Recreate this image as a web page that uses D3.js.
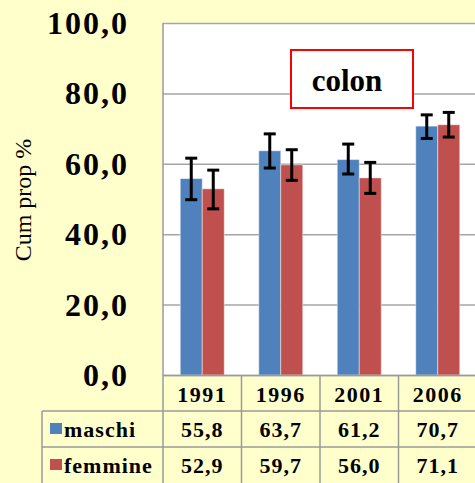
<!DOCTYPE html>
<html>
<head>
<meta charset="utf-8">
<script src="https://cdn.jsdelivr.net/npm/d3@7"></script>
<style>
	html, body { margin: 0; padding: 0; background: #FFFFCC; }
	svg { display: block; }
</style>
</head>
<body>
<div id="chart"></div>
<script>
//Data---------------------------------------------------------------------
var categories = ['1991', '1996', '2001', '2006'];
var seriesNames = ['maschi', 'femmine'];
var maschi = [55.8, 63.7, 61.2, 70.7];
var femmine = [52.9, 59.7, 56.0, 71.1];
//error bars (lower / upper)
var maschiLow = [49.8, 58.8, 57.1, 67.2];
var maschiHigh = [61.6, 68.5, 65.6, 73.9];
var femmineLow = [47.2, 55.3, 51.6, 67.6];
var femmineHigh = [58.2, 64.0, 60.4, 74.6];
var yTicks = [0, 20, 40, 60, 80, 100];
var chartTitle = 'colon';
var yTitle = 'Cum prop %';

var W = 475, H = 483;
var FONT = "'Liberation Serif', 'Times New Roman', serif";
var colors = ['#4F81BD', '#C0504D'];
var gridColor = '#A6A6A6';
var lineColor = '#9A9A9A';

var series = [
	{ name: seriesNames[0], values: maschi, low: maschiLow, high: maschiHigh },
	{ name: seriesNames[1], values: femmine, low: femmineLow, high: femmineHigh }
];

var fmt = function (v) {
	return d3.format('.1f')(v).replace('.', ',');
};

var svg = d3.select('#chart').append('svg')
	.attr('width', W)
	.attr('height', H)
	.attr('font-family', FONT);

svg.append('rect')
	.attr('width', W)
	.attr('height', H)
	.attr('fill', '#FFFFCC');

//Scales-------------------------------------------------------------------
var plotLeft = 163, plotRight = 477, plotTop = 23, plotBottom = 375;
var tableLeft = 42, rowH = 36;

var x = d3.scaleBand()
	.domain(categories)
	.range([plotLeft, plotRight])
	.paddingInner(0)
	.paddingOuter(0);

var y = d3.scaleLinear()
	.domain([0, 100])
	.range([plotBottom, plotTop]);

var barW = 22;
var xs = d3.scaleBand()
	.domain(seriesNames)
	.range([-barW, barW]);

//plot area
svg.append('rect')
	.attr('x', plotLeft)
	.attr('y', plotTop)
	.attr('width', plotRight - plotLeft)
	.attr('height', plotBottom - plotTop)
	.attr('fill', '#FFFFFF');

//gridlines
svg.append('g').selectAll('line')
	.data(yTicks)
	.enter()
	.append('line')
	.attr('x1', plotLeft)
	.attr('x2', plotRight)
	.attr('y1', function (d) { return y(d) + 0.5; })
	.attr('y2', function (d) { return y(d) + 0.5; })
	.attr('stroke', gridColor)
	.attr('stroke-width', 1.5);

//y tick labels
svg.append('g').selectAll('text')
	.data(yTicks)
	.enter()
	.append('text')
	.attr('x', 129)
	.attr('y', function (d) { return y(d) + 11; })
	.attr('text-anchor', 'end')
	.attr('font-size', 32)
	.attr('font-weight', 'bold')
	.attr('letter-spacing', 2)
	.text(fmt);

//y title
svg.append('text')
	.attr('transform', 'translate(31,200) rotate(-90)')
	.attr('text-anchor', 'middle')
	.attr('font-size', 24)
	.text(yTitle);

//bars
var groups = svg.append('g').selectAll('g')
	.data(series)
	.enter()
	.append('g');

groups.selectAll('rect')
	.data(function (s) {
		return s.values.map(function (v, i) {
			return { name: s.name, cat: categories[i], v: v };
		});
	})
	.enter()
	.append('rect')
	.attr('x', function (d) { return x(d.cat) + x.bandwidth() / 2 + xs(d.name); })
	.attr('y', function (d) { return y(d.v); })
	.attr('width', xs.bandwidth())
	.attr('height', function (d) { return y(0) - y(d.v); })
	.attr('fill', function (d) { return colors[seriesNames.indexOf(d.name)]; })
	.attr('stroke', 'rgba(255,255,255,0.45)')
	.attr('stroke-width', 1);

//error bars
var errs = groups.selectAll('g')
	.data(function (s) {
		return s.values.map(function (v, i) {
			return { name: s.name, cat: categories[i], lo: s.low[i], hi: s.high[i] };
		});
	})
	.enter()
	.append('g')
	.attr('transform', function (d) {
		return 'translate(' + (x(d.cat) + x.bandwidth() / 2 + xs(d.name) + xs.bandwidth() / 2) + ',0)';
	})
	.attr('stroke', '#000')
	.attr('stroke-width', 3);

errs.append('line')
	.attr('x1', 0).attr('x2', 0)
	.attr('y1', function (d) { return y(d.lo); })
	.attr('y2', function (d) { return y(d.hi); });
errs.append('line')
	.attr('x1', -6).attr('x2', 6)
	.attr('y1', function (d) { return y(d.lo); })
	.attr('y2', function (d) { return y(d.lo); });
errs.append('line')
	.attr('x1', -6).attr('x2', 6)
	.attr('y1', function (d) { return y(d.hi); })
	.attr('y2', function (d) { return y(d.hi); });

//title box
svg.append('rect')
	.attr('x', 291)
	.attr('y', 50)
	.attr('width', 122)
	.attr('height', 58)
	.attr('fill', '#FFFFFF')
	.attr('stroke', '#FF0000')
	.attr('stroke-width', 2);
svg.append('text')
	.attr('x', 347)
	.attr('y', 91)
	.attr('text-anchor', 'middle')
	.attr('font-size', 31)
	.attr('font-weight', 'bold')
	.text(chartTitle);

//Data table---------------------------------------------------------------
var table = svg.append('g').attr('stroke', lineColor).attr('stroke-width', 1.5);
//axis line / top of table
table.append('line')
	.attr('x1', plotLeft).attr('x2', plotRight)
	.attr('y1', plotBottom + 0.5).attr('y2', plotBottom + 0.5);
//row lines
[1, 2].forEach(function (r) {
	table.append('line')
		.attr('x1', tableLeft).attr('x2', plotRight)
		.attr('y1', plotBottom + r * rowH).attr('y2', plotBottom + r * rowH);
});
table.append('line')
	.attr('x1', tableLeft).attr('x2', tableLeft)
	.attr('y1', plotBottom + rowH).attr('y2', H);
table.append('line')
	.attr('x1', plotLeft).attr('x2', plotLeft)
	.attr('y1', plotTop).attr('y2', H);
table.selectAll('line.col')
	.data(categories.slice(1))
	.enter()
	.append('line')
	.attr('class', 'col')
	.attr('x1', function (d) { return x(d); })
	.attr('x2', function (d) { return x(d); })
	.attr('y1', plotBottom).attr('y2', H);

//category labels
svg.append('g').selectAll('text')
	.data(categories)
	.enter()
	.append('text')
	.attr('x', function (d) { return x(d) + x.bandwidth() / 2; })
	.attr('y', plotBottom + 27)
	.attr('text-anchor', 'middle')
	.attr('font-size', 22)
	.attr('font-weight', 'bold')
	.attr('letter-spacing', 1.5)
	.text(function (d) { return d; });

//rows
var rows = svg.append('g').selectAll('g')
	.data(series)
	.enter()
	.append('g')
	.attr('transform', function (d, i) {
		return 'translate(0,' + (plotBottom + (i + 1) * rowH) + ')';
	});

rows.append('rect')
	.attr('x', 50)
	.attr('y', 12)
	.attr('width', 12)
	.attr('height', 11)
	.attr('fill', function (d, i) { return colors[i]; });

rows.append('text')
	.attr('x', 64)
	.attr('y', 26)
	.attr('font-size', 22)
	.attr('font-weight', 'bold')
	.attr('letter-spacing', 1)
	.text(function (d) { return d.name; });

rows.selectAll('text.val')
	.data(function (d) { return d.values; })
	.enter()
	.append('text')
	.attr('class', 'val')
	.attr('x', function (d, i) { return x(categories[i]) + x.bandwidth() / 2; })
	.attr('y', 26)
	.attr('text-anchor', 'middle')
	.attr('font-size', 22)
	.attr('font-weight', 'bold')
	.attr('letter-spacing', 1)
	.text(fmt);
</script>
</body>
</html>
